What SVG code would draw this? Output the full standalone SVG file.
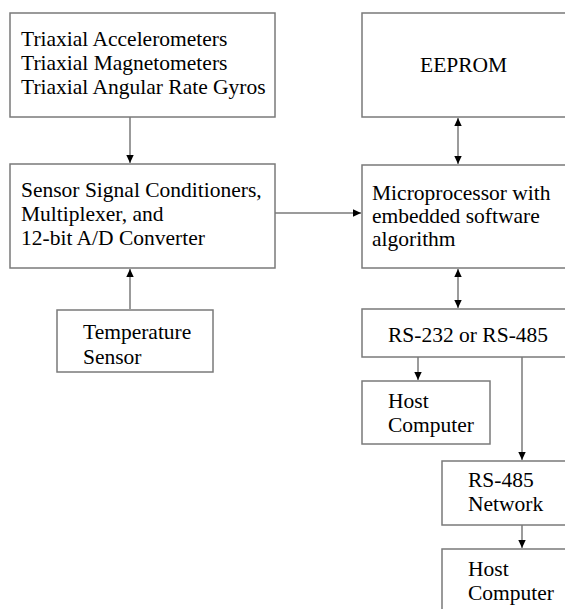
<svg xmlns="http://www.w3.org/2000/svg" width="565" height="609" viewBox="0 0 565 609">
<style>
.box{fill:#fff;stroke:#7a7a7a;stroke-width:1.5}
.t{font-family:'Liberation Serif','Times New Roman',serif;font-size:21.5px;fill:#000}
.c{stroke:#7a7a7a;stroke-width:1.5;fill:none}
</style>
<defs>
<marker id="ah" markerUnits="userSpaceOnUse" markerWidth="10" markerHeight="10" viewBox="0 0 10 10" refX="9" refY="5" orient="auto-start-reverse">
<path d="M1,1.3 L9,5 L1,8.7 Z" fill="#000"/>
</marker>
</defs>
<rect width="565" height="609" fill="#fff"/>
<g id="connectors">
<line class="c" x1="130" y1="117" x2="130" y2="163" marker-end="url(#ah)"/>
<line class="c" x1="130" y1="309" x2="130" y2="269" marker-end="url(#ah)"/>
<line class="c" x1="273" y1="213" x2="361" y2="213" marker-end="url(#ah)"/>
<line class="c" x1="458" y1="118" x2="458" y2="164" marker-start="url(#ah)" marker-end="url(#ah)"/>
<line class="c" x1="458" y1="269" x2="458" y2="308" marker-start="url(#ah)" marker-end="url(#ah)"/>
<line class="c" x1="418" y1="357" x2="418" y2="380" marker-end="url(#ah)"/>
<line class="c" x1="522" y1="357" x2="522" y2="460" marker-end="url(#ah)"/>
<line class="c" x1="522" y1="525" x2="522" y2="548" marker-end="url(#ah)"/>
</g>
<g id="sensors">
<rect class="box" x="10" y="13" width="265" height="104"/>
<text class="t" x="21" y="46">Triaxial Accelerometers</text>
<text class="t" x="21" y="70">Triaxial Magnetometers</text>
<text class="t" x="21" y="94">Triaxial Angular Rate Gyros</text>
</g>
<g id="conditioners">
<rect class="box" x="10" y="164" width="265" height="104"/>
<text class="t" x="21" y="197">Sensor Signal Conditioners,</text>
<text class="t" x="21" y="221">Multiplexer, and</text>
<text class="t" x="21" y="245">12-bit A/D Converter</text>
</g>
<g id="temperature">
<rect class="box" x="57" y="310" width="156" height="62"/>
<text class="t" x="83" y="339">Temperature</text>
<text class="t" x="83" y="364">Sensor</text>
</g>
<g id="eeprom">
<rect class="box" x="362" y="13" width="210" height="104"/>
<text class="t" x="420" y="72">EEPROM</text>
</g>
<g id="microprocessor">
<rect class="box" x="362" y="165" width="210" height="103"/>
<text class="t" x="372" y="200">Microprocessor with</text>
<text class="t" x="372" y="223">embedded software</text>
<text class="t" x="372" y="246">algorithm</text>
</g>
<g id="serial">
<rect class="box" x="362" y="309" width="210" height="48"/>
<text class="t" x="388" y="342">RS-232 or RS-485</text>
</g>
<g id="host1">
<rect class="box" x="362" y="381" width="128" height="63"/>
<text class="t" x="388" y="408">Host</text>
<text class="t" x="388" y="432">Computer</text>
</g>
<g id="network">
<rect class="box" x="442" y="461" width="130" height="64"/>
<text class="t" x="468" y="487">RS-485</text>
<text class="t" x="468" y="511">Network</text>
</g>
<g id="host2">
<rect class="box" x="442" y="549" width="130" height="70"/>
<text class="t" x="468" y="576">Host</text>
<text class="t" x="468" y="600">Computer</text>
</g>
</svg>
